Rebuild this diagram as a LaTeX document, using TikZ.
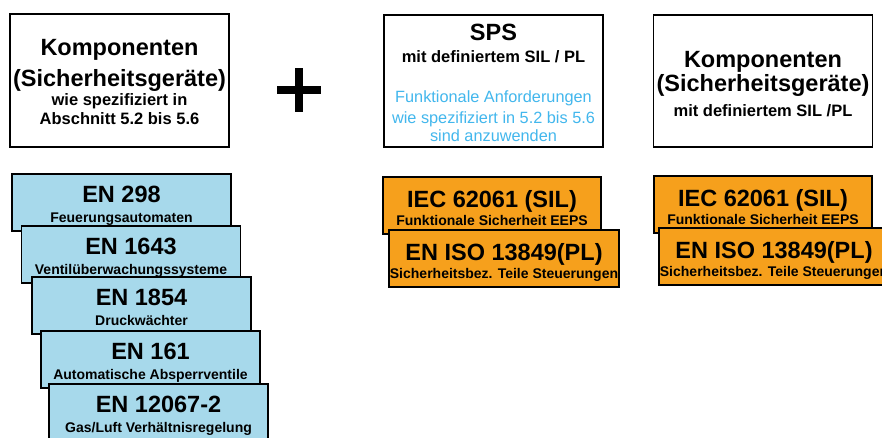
\documentclass[tikz,border=0pt]{standalone}
\usepackage{fontspec}
\setmainfont{Liberation Sans}
\usepackage{xcolor}
\definecolor{normblue}{RGB}{167,217,235}
\definecolor{normorange}{RGB}{246,160,28}
\definecolor{reqblue}{RGB}{66,183,237}
\usepackage{tikz}
\newcommand{\normtitle}[1]{{\fontsize{23.5}{28}\selectfont #1}}
\newcommand{\reqtxt}[1]{{\mdseries\color{reqblue}\fontsize{16.3}{19}\selectfont #1}}
\newcommand{\freeskip}{\lineskiplimit=-100pt\relax}

\begin{document}
\begin{tikzpicture}[x=1pt,y=-1pt,
    compbox/.style={draw=black,line width=1.5pt,fill=white,minimum width=219pt,inner sep=0pt,align=center,
      font=\bfseries\fontsize{16.5}{19}\selectfont\freeskip},
    normbox/.style={draw=black,line width=1.5pt,fill=normblue,minimum width=219pt,inner sep=0pt,align=center,
      text height=48pt,text depth=9pt,font=\bfseries\fontsize{14}{19.5}\selectfont\freeskip},
    silbox/.style={normbox,fill=normorange,font=\bfseries\fontsize{14}{18}\selectfont\freeskip}]
        \clip (0,0) rectangle (882,437);
        \node[compbox,text height=110pt,text depth=23pt] (kompA) at (119.5,80.5)
          {\normtitle{Komponenten}\\[11.6pt]\normtitle{(Sicherheitsgeräte)}\\wie spezifiziert in\\Abschnitt 5.2 bis 5.6};
        \fill[black] (277,86) rectangle (321,94);
        \fill[black] (295,68) rectangle (303,112);
        \node[compbox,text height=126pt,text depth=6pt] (sps) at (493.5,81)
          {\normtitle{SPS}\\[3pt]mit definiertem SIL / PL\\[21.5pt]\reqtxt{Funktionale Anforderungen}\\[1.5pt]\reqtxt{wie spezifiziert in 5.2 bis 5.6}\\[-1pt]\reqtxt{sind anzuwenden}};
        \node[compbox,text height=101pt,text depth=31pt] (kompB) at (763,81)
          {\normtitle{Komponenten}\\[5pt]\normtitle{(Sicherheitsgeräte)}\\[6pt]mit definiertem SIL /PL};
        \node[normbox] (en298) at (121.5,202.5) {\normtitle{EN 298}\\Feuerungsautomaten};
        \node[normbox] (en1643) at (131,254.5) {\normtitle{EN 1643}\\Ventilüberwachungssysteme};
        \node[normbox] (en1854) at (141.5,305.5) {\normtitle{EN 1854}\\Druckwächter};
        \node[normbox] (en161) at (150.5,359.5) {\normtitle{EN 161}\\Automatische Absperrventile};
        \node[normbox] (en12067) at (158.5,412.5) {\normtitle{EN 12067-2}\\Gas/Luft Verhältnisregelung};
        \node[silbox,minimum width=218pt] (iecA) at (492,205.5) {\normtitle{IEC 62061 (SIL)}\\Funktionale Sicherheit EEPS};
        \node[silbox,minimum width=230pt] (isoA) at (504,258.5) {\normtitle{EN ISO 13849(PL)}\\Sicherheitsbez. Teile Steuerungen};
        \node[silbox,minimum width=218pt] (iecB) at (763,204.5) {\normtitle{IEC 62061 (SIL)}\\Funktionale Sicherheit EEPS};
        \node[silbox,minimum width=230pt] (isoB) at (774,256.5) {\normtitle{EN ISO 13849(PL)}\\Sicherheitsbez. Teile Steuerungen};
      \end{tikzpicture}
\end{document}
